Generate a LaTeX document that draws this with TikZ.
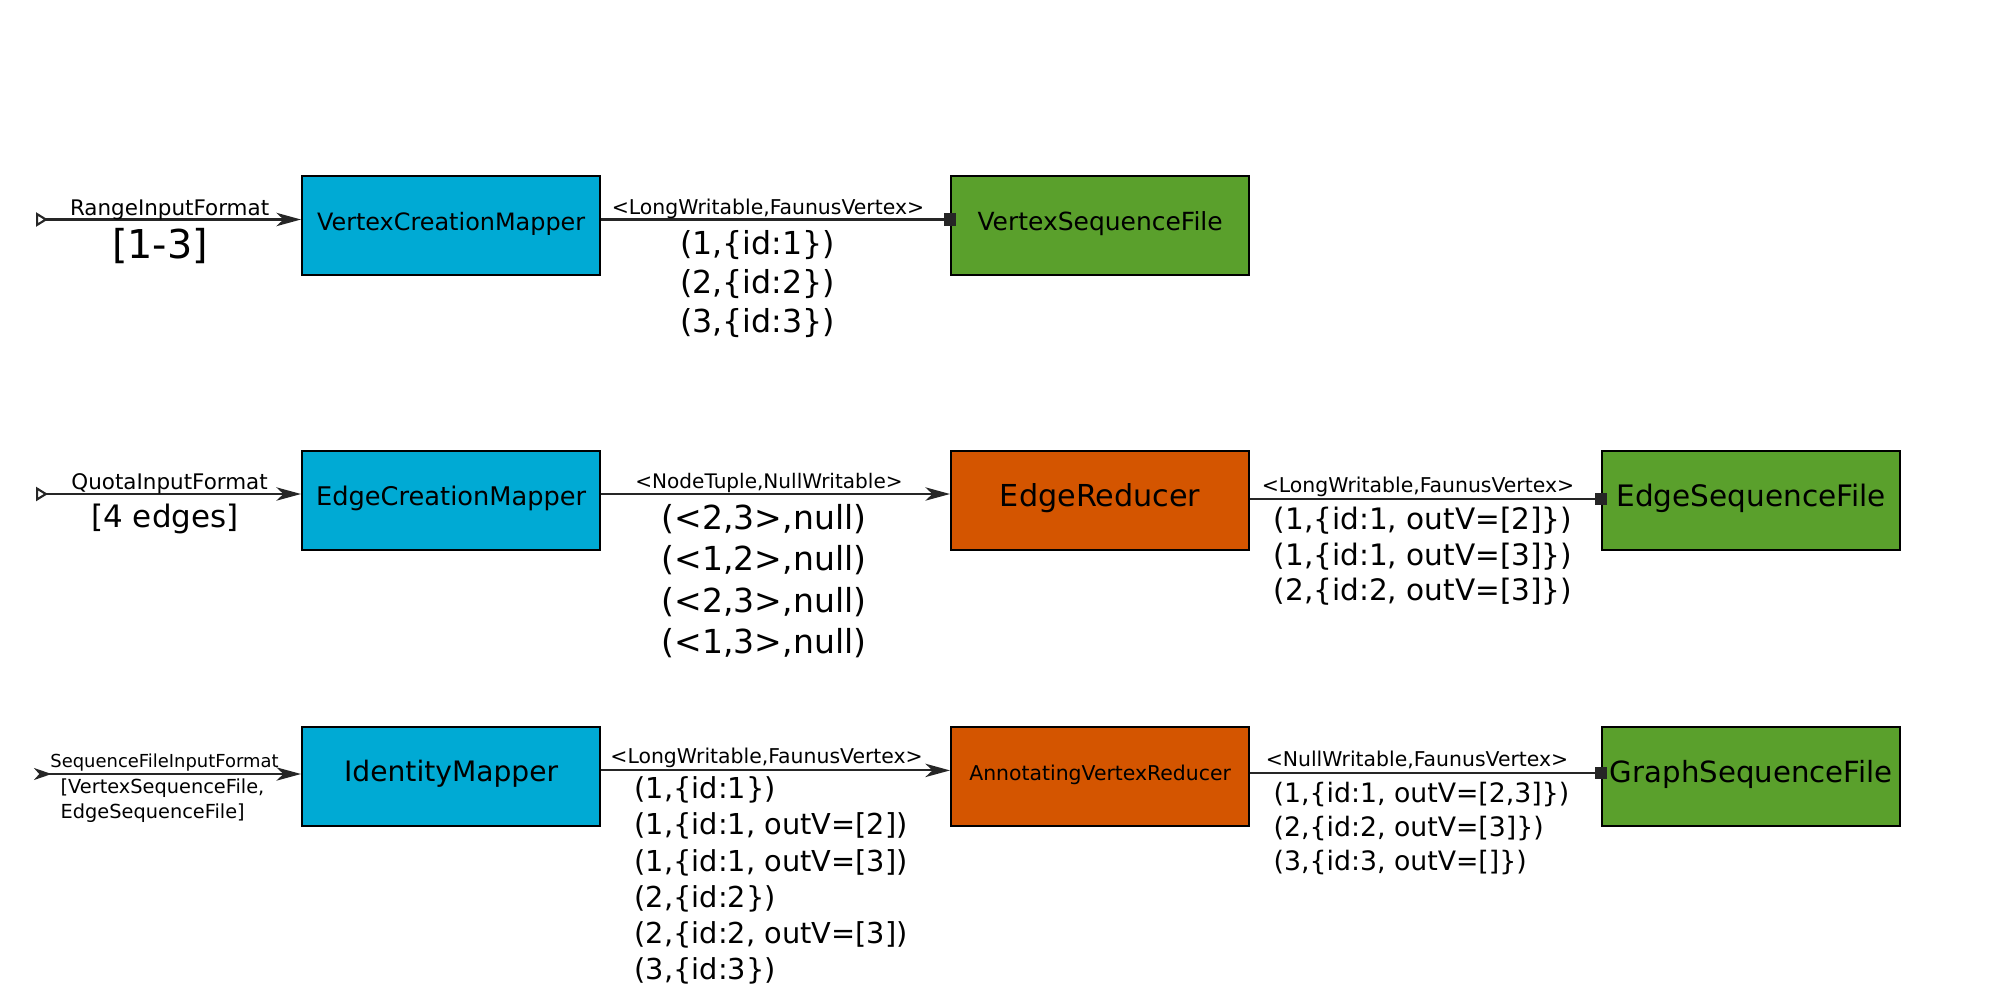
\documentclass[tikz,border=0pt]{standalone}
\usepackage{fontspec}
\setmainfont{DejaVu Sans}
\usetikzlibrary{arrows.meta}
\definecolor{mapblue}{RGB}{0,170,212}
\definecolor{reduceorange}{RGB}{212,85,0}
\definecolor{filegreen}{RGB}{90,160,44}
\newcommand{\fs}[2]{\fontsize{#1}{#2}\selectfont}
% job names sit a little above the middle of their boxes
\newcommand{\jobtitle}[1]{\raisebox{-0.19em}[0pt][0pt]{#1}}
\begin{document}
\begin{tikzpicture}[x=0.01cm,y=-0.01cm,
  job/.style={draw=black, line width=0.6pt, minimum width=2.98cm, minimum height=0.99cm,
              inner sep=0pt, anchor=north west},
  mapper/.style={job, fill=mapblue},
  reducer/.style={job, fill=reduceorange},
  seqfile/.style={job, fill=filegreen},
  flow/.style={draw=black!85, line width=0.6pt},
  feed/.style={flow, {Triangle[open,reversed,length=3.4pt,width=4pt]}-{Stealth[length=7pt,width=3.8pt,inset=2pt]}},
  pass/.style={flow, -{Stealth[length=7pt,width=3.8pt,inset=2pt]}},
  store/.style={flow, -{Square[length=3.6pt,width=3.6pt]}, shorten >=-1.8pt},
  kv/.style={inner sep=0pt, font=\fs{5.8}{7}},
  data/.style={inner sep=0pt}
]
\useasboundingbox (0,0) rectangle (2000,1000);

% ---- jobs ----
\node[mapper,  font=\fs{6.8}{8}] (vcm) at (301,175) {\jobtitle{VertexCreationMapper}};
\node[seqfile, font=\fs{7.1}{8}] (vsf) at (950,175) {\jobtitle{VertexSequenceFile}};

\node[mapper,  font=\fs{7.3}{8}] (ecm) at (301,450) {\jobtitle{EdgeCreationMapper}};
\node[reducer, font=\fs{8.6}{9}] (er)  at (950,450) {\jobtitle{EdgeReducer}};
\node[seqfile, font=\fs{8.4}{9}] (esf) at (1601,450) {\jobtitle{EdgeSequenceFile}};

\node[mapper,  font=\fs{8.0}{9}] (im)  at (301,726) {\jobtitle{IdentityMapper}};
\node[reducer, font=\fs{5.8}{7}] (avr) at (950,726) {\jobtitle{AnnotatingVertexReducer}};
\node[seqfile, font=\fs{8.3}{9}] (gsf) at (1601,726) {\jobtitle{GraphSequenceFile}};

% ---- inputs ----
\coordinate (in1) at (36,219.5);
\coordinate (in2) at (36,494);
\coordinate (in3) at (34,774);

\draw[feed] (in1) -- (in1 -| vcm.west);
\draw[feed] (in2) -- (in2 -| ecm.west);
\draw[flow, {Stealth[reversed,length=5pt,width=3.4pt,inset=1.5pt]}-{Stealth[length=7pt,width=3.8pt,inset=2pt]}]
  (in3) -- (in3 -| im.west);

\node[inner sep=0pt, font=\fs{6.1}{7}] (rif) at (169.6,209.5) {RangeInputFormat};
\node[inner sep=0pt, font=\fs{11.3}{13}] (rng) at (160,246) {[1-3]};

\node[inner sep=0pt, font=\fs{6.1}{7}] (qif) at (169.6,483.5) {QuotaInputFormat};
\node[inner sep=0pt, font=\fs{8.8}{10}] (qty) at (165,518.5) {[4 edges]};

\node[inner sep=0pt, font=\fs{5.1}{6}] (sif) at (164.5,763) {SequenceFileInputFormat};
\node[data, anchor=north west, align=left, font=\fs{5.5}{7.25}] (sifl) at (60,778)
  {[VertexSequenceFile,\\EdgeSequenceFile]};

% ---- row 1: vertex creation ----
\draw[store] (vcm.east |- in1) -- (vsf.west |- in1);
\node[kv] (k1) at (768,208.5) {<LongWritable,FaunusVertex>};
\node[data, anchor=north, align=center, font=\fs{9}{11.1}] (d1) at (757.6,229.5)
  {(1,\{id:1\})\\(2,\{id:2\})\\(3,\{id:3\})};

% ---- row 2: edge creation ----
\coordinate (m2) at (0,494);
\coordinate (r2) at (0,499);
\draw[pass] (ecm.east |- m2) -- (er.west |- m2);
\node[kv, font=\fs{5.7}{7}] (k2) at (769,483) {<NodeTuple,NullWritable>};
\node[data, anchor=north, align=center, font=\fs{9.4}{11.7}] (d2) at (764,504)
  {(<2,3>,null)\\(<1,2>,null)\\(<2,3>,null)\\(<1,3>,null)};

\draw[store] (er.east |- r2) -- (esf.west |- r2);
\node[kv] (k3) at (1418,486.5) {<LongWritable,FaunusVertex>};
\node[data, anchor=north west, align=left, font=\fs{8.4}{10.2}] (d3) at (1273,506)
  {(1,\{id:1, outV=[2]\})\\(1,\{id:1, outV=[3]\})\\(2,\{id:2, outV=[3]\})};

% ---- row 3: graph assembly ----
\coordinate (m3) at (0,770.4);
\coordinate (r3) at (0,773);
\draw[pass] (im.east |- m3) -- (avr.west |- m3);
\node[kv] (k4) at (766.6,758) {<LongWritable,FaunusVertex>};
\node[data, anchor=north west, align=left, font=\fs{8.2}{10.3}] (d4) at (634,776)
  {(1,\{id:1\})\\(1,\{id:1, outV=[2])\\(1,\{id:1, outV=[3])\\(2,\{id:2\})\\(2,\{id:2, outV=[3])\\(3,\{id:3\})};

\draw[store] (avr.east |- r3) -- (gsf.west |- r3);
\node[kv] (k5) at (1417,759.5) {<NullWritable,FaunusVertex>};
\node[data, anchor=north west, align=left, font=\fs{7.6}{9.8}] (d5) at (1273,781)
  {(1,\{id:1, outV=[2,3]\})\\(2,\{id:2, outV=[3]\})\\(3,\{id:3, outV=[]\})};
\end{tikzpicture}
\end{document}
